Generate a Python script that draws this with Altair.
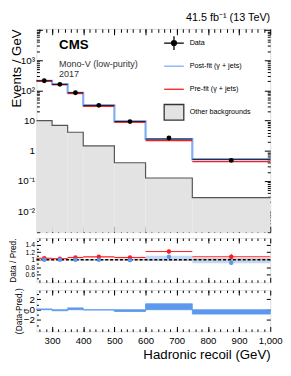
import altair as alt
import pandas as pd

FONT = "Liberation Sans"

# ---------------- data ----------------
edges = [250, 300, 350, 400, 500, 600, 750, 1000]
data_vals = [210, 160, 84, 32, 9.3, 2.65, 0.48]
postfit_vals = [210, 160, 84, 32, 9.4, 2.45, 0.52]
prefit_vals = [202, 155, 79, 29.6, 8.8, 2.17, 0.44]
other_bkg = [10.0, 6.9, 4.1, 1.45, 0.40, 0.125, 0.028]

ratio_pre = [1.04, 1.03, 1.06, 1.08, 1.06, 1.22, 1.08]
ratio_pre_err = [0.015, 0.015, 0.02, 0.02, 0.025, 0.05, 0.07]
ratio_post = [1.0, 1.0, 1.0, 1.0, 0.99, 1.08, 0.92]
ratio_post_err = [0.015, 0.015, 0.02, 0.02, 0.025, 0.05, 0.06]
pre_band_lo = [1.025, 1.02, 1.035, 1.05, 1.035, 1.22, 1.08]
pre_band_hi = [1.055, 1.045, 1.08, 1.09, 1.08, 1.22, 1.08]
post_band_lo = [0.985, 0.985, 0.985, 0.985, 0.985, 0.99, 0.91]
post_band_hi = [1.015, 1.015, 1.015, 1.015, 1.015, 1.11, 0.985]
unc_lo = [0.985, 0.985, 0.985, 0.98, 0.98, 0.965, 0.96]
unc_hi = [1.015, 1.015, 1.015, 1.02, 1.02, 1.035, 1.04]
resid = [0.15, -0.2, 0.35, -0.06, -0.35, 1.15, -0.85]

legend_names = ["Data", "Post-fit (γ + jets)", "Pre-fit (γ + jets)", "Other backgrounds"]

x_major = [300, 400, 500, 600, 700, 800, 900, 1000]
x_minor = list(range(260, 1000, 20))
y_main_major = [0.01, 0.1, 1, 10, 100, 1000, 10000]
y_main_minor = [k * 10.0 ** e for e in range(-3, 4) for k in range(2, 10)]
y_ratio_major = [0.6, 0.8, 1.0, 1.2, 1.4]
y_ratio_minor = [0.5, 0.7, 0.9, 1.1, 1.3, 1.5]
y_res_major = [-2, 0, 2]
y_res_minor = [-3, -1, 1, 3]

# ---------------- tables ----------------
bins = pd.DataFrame({
    "lo": edges[:-1], "hi": edges[1:],
    "data": data_vals, "post": postfit_vals, "pre": prefit_vals, "bkg": other_bkg,
    "rpre": ratio_pre, "rpre_e": ratio_pre_err, "rpost": ratio_post, "rpost_e": ratio_post_err,
    "pblo": pre_band_lo, "pbhi": pre_band_hi, "qblo": post_band_lo, "qbhi": post_band_hi,
    "ulo": unc_lo, "uhi": unc_hi, "res": resid,
})
bins["c"] = (bins["lo"] + bins["hi"]) / 2
bins["rpre_lo"] = bins["rpre"] - bins["rpre_e"]
bins["rpre_hi"] = bins["rpre"] + bins["rpre_e"]
bins["rpost_lo"] = bins["rpost"] - bins["rpost_e"]
bins["rpost_hi"] = bins["rpost"] + bins["rpost_e"]
bins["zero"] = 0.0

steps = pd.DataFrame({
    "x": edges,
    "bkg": other_bkg + [other_bkg[-1]],
    "post": postfit_vals + [postfit_vals[-1]],
})

W = 238
MAIN_H = 207
RATIO_H = 45
RES_H = 42

xs = alt.Scale(domain=[250, 1000], nice=False, zero=False)
ys_main = alt.Scale(type="log", domain=[0.002, 11000], nice=False)
ys_ratio = alt.Scale(domain=[0.4, 1.58], nice=False, zero=False)
ys_res = alt.Scale(domain=[-4.2, 3.8], nice=False, zero=False)

BLUE_LINE = "#7eaef4"
BLUE = "#5b98ee"
RED = "#ff1a1a"


def ax(orient, values, size, labels=False, **kw):
    return alt.Axis(orient=orient, values=values, tickSize=size, offset=-size,
                    domain=False, labels=labels, grid=False, tickColor="black",
                    tickWidth=1, labelFlush=False, labelOverlap=False,
                    labelBound=False, **kw)


def axis_layers(ys, ydummy, xaxes, yaxes):
    dummy = pd.DataFrame({"v": [500], "w": [ydummy]})
    out = []
    for a in xaxes:
        out.append(alt.Chart(dummy).mark_point(opacity=0).encode(
            x=alt.X("v:Q", scale=xs, axis=a), y=alt.Y("w:Q", scale=ys, axis=None)))
    for a in yaxes:
        out.append(alt.Chart(dummy).mark_point(opacity=0).encode(
            x=alt.X("v:Q", scale=xs, axis=None), y=alt.Y("w:Q", scale=ys, axis=a)))
    return out


def X(f):
    return alt.X(f, scale=xs, axis=None)


# ---------------- main panel ----------------
base = alt.Chart(bins)
bkg_fill = base.mark_rect(color="#e3e3e3").encode(
    x=X("lo:Q"), x2="hi:Q", y=alt.Y("bkg:Q", scale=ys_main, axis=None), y2=alt.value(MAIN_H))
bkg_line = alt.Chart(steps).mark_line(interpolate="step-after", color="#555555", strokeWidth=1.2).encode(
    x=X("x:Q"), y=alt.Y("bkg:Q", scale=ys_main, axis=None))
post_line = alt.Chart(steps).mark_line(interpolate="step-after", color=BLUE_LINE, strokeWidth=2.2).encode(
    x=X("x:Q"), y=alt.Y("post:Q", scale=ys_main, axis=None))
pre_rule = base.mark_rule(color=RED, strokeWidth=1.3).encode(
    x=X("lo:Q"), x2="hi:Q", y=alt.Y("pre:Q", scale=ys_main, axis=None))
post_rule = base.mark_rule(color="#111122", strokeWidth=1).encode(
    x=X("lo:Q"), x2="hi:Q", y=alt.Y("post:Q", scale=ys_main, axis=None))
data_pts = base.mark_circle(size=24, color="black", opacity=1).encode(
    x=X("c:Q"), y=alt.Y("data:Q", scale=ys_main, axis=None))

txt = pd.DataFrame({"t": ["x"]})
cms = alt.Chart(txt).mark_text(text="CMS", font=FONT, fontSize=13.5, fontWeight="bold",
                               align="left", baseline="middle", color="black").encode(
    x=alt.value(23), y=alt.value(17))
monov = alt.Chart(txt).mark_text(text="Mono-V (low-purity)", font=FONT, fontSize=9.2,
                                 align="left", baseline="middle", color="#333333").encode(
    x=alt.value(23), y=alt.value(35.5))
year = alt.Chart(txt).mark_text(text="2017", font=FONT, fontSize=9.2,
                                align="left", baseline="middle", color="#333333").encode(
    x=alt.value(23), y=alt.value(45.5))
lumi = alt.Chart(txt).mark_text(text="41.5 fb⁻¹ (13 TeV)", font=FONT, fontSize=11,
                                align="right", baseline="middle", color="black").encode(
    x=alt.value(W), y=alt.value(-11))

leg = alt.Legend(title=None, orient="none", legendX=129, legendY=3.5, symbolSize=400,
                 symbolStrokeWidth=1.3, labelFontSize=7.3, labelFont=FONT, labelOffset=5,
                 rowPadding=1.5, padding=0, labelColor="black", symbolOpacity=1)
# every symbol spans the same box (moves only widen the bounds) so rows are evenly spaced
shape_paths = [
    "M-1,-0.8M-1,0.8M-1,0H1M0,-0.7V0.7M0.25,0A0.25,0.25 0 1 1 -0.25,0A0.25,0.25 0 1 1 0.25,0Z",
    "M-1,-0.8M-1,0.8M-1,0H1",
    "M-1,-0.8M-1,0.8M-1,0H1",
    "M-1,-0.8H1V0.8H-1Z",
]
legend_layer = alt.Chart(pd.DataFrame({"name": legend_names})).transform_filter(
    "datum.name == 'none'").mark_point(filled=True, opacity=1, strokeWidth=1.3).encode(
    shape=alt.Shape("name:N", scale=alt.Scale(domain=legend_names, range=shape_paths), legend=leg),
    fill=alt.Fill("name:N", scale=alt.Scale(domain=legend_names,
                                            range=["black", BLUE_LINE, RED, "#e3e3e3"]), legend=leg),
    stroke=alt.Stroke("name:N", scale=alt.Scale(domain=legend_names,
                                                range=["black", BLUE_LINE, RED, "#333333"]), legend=leg),
)

main_label_expr = ("datum.value == 1000 ? '10³' : datum.value == 100 ? '10²' : datum.value == 10 ? '10' : "
                   "datum.value == 1 ? '1' : datum.value == 0.1 ? '10⁻¹' : datum.value == 0.01 ? '10⁻²' : ''")

main_axes = axis_layers(
    ys_main, 1,
    [ax("bottom", x_major, 6, title=None), ax("bottom", x_minor, 3.5, title=None),
     ax("top", x_major, 6, title=None), ax("top", x_minor, 3.5, title=None)],
    [ax("left", y_main_major, 6, labels=True, labelExpr=main_label_expr, labelFontSize=10,
        labelPadding=2, title="Events / GeV", titleFontSize=13.5, titleFontWeight="normal",
        titleAnchor="end", titleX=-19.5),
     ax("left", y_main_minor, 3, title=None),
     ax("right", y_main_major, 6, title=None), ax("right", y_main_minor, 3, title=None)],
)

main = alt.layer(bkg_fill, bkg_line, post_line, pre_rule, post_rule, data_pts,
                 cms, monov, year, lumi, legend_layer, *main_axes).resolve_axis(
    x="independent", y="independent").properties(width=W, height=MAIN_H)

# ---------------- ratio panel ----------------
def YR(f):
    return alt.Y(f, scale=ys_ratio, axis=None)

unc_band = base.mark_rect(color="#c4c4c4").encode(x=X("lo:Q"), x2="hi:Q", y=YR("ulo:Q"), y2="uhi:Q")
post_band = base.mark_rect(color="#bcd5f6", opacity=0.9).encode(x=X("lo:Q"), x2="hi:Q", y=YR("qblo:Q"), y2="qbhi:Q")
pre_band = base.mark_rect(color="#f8b8b8", opacity=0.9).encode(x=X("lo:Q"), x2="hi:Q", y=YR("pblo:Q"), y2="pbhi:Q")
one_line = alt.Chart(txt).mark_rule(color="black", strokeDash=[3, 2], strokeWidth=1.4).encode(
    y=alt.datum(1.0, scale=ys_ratio, axis=None))
pre_x = base.mark_rule(color=RED, strokeWidth=1).encode(x=X("lo:Q"), x2="hi:Q", y=YR("rpre:Q"))
pre_y = base.mark_rule(color=RED, strokeWidth=1).encode(x=X("c:Q"), y=YR("rpre_lo:Q"), y2="rpre_hi:Q")
pre_pt = base.mark_circle(size=20, color=RED, opacity=1).encode(x=X("c:Q"), y=YR("rpre:Q"))
post_y = base.mark_rule(color="#8fb8f2", strokeWidth=1.2).encode(x=X("c:Q"), y=YR("rpost_lo:Q"), y2="rpost_hi:Q")
post_pt = base.mark_circle(size=20, color=BLUE, opacity=1).encode(x=X("c:Q"), y=YR("rpost:Q"))

ratio_axes = axis_layers(
    ys_ratio, 1,
    [ax("bottom", x_major, 5, title=None), ax("bottom", x_minor, 2.5, title=None),
     ax("top", x_major, 5, title=None), ax("top", x_minor, 2.5, title=None)],
    [ax("left", y_ratio_major, 4, labels=True, labelFontSize=7, labelPadding=2,
        labelExpr="datum.value == 1 ? '1' : format(datum.value, '.1f')",
        title="Data / Pred.", titleFontSize=8.5, titleFontWeight="normal", titleX=-23.5),
     ax("left", y_ratio_minor, 2, title=None),
     ax("right", y_ratio_major, 4, title=None)],
)

ratio = alt.layer(unc_band, post_band, pre_band, one_line, pre_x, pre_y, pre_pt, post_y, post_pt,
                  *ratio_axes).resolve_axis(x="independent", y="independent").properties(
    width=W, height=RATIO_H)

# ---------------- residual panel ----------------
res_bar = base.mark_rect(color=BLUE, stroke=BLUE, strokeWidth=0.8).encode(
    x=X("lo:Q"), x2="hi:Q", y=alt.Y("zero:Q", scale=ys_res, axis=None), y2="res:Q")

res_axes = axis_layers(
    ys_res, 0,
    [ax("bottom", x_major, 5, labels=True, labelFontSize=9.7, labelPadding=4,
        title="Hadronic recoil (GeV)", titleFontSize=13.5, titleFontWeight="normal",
        titleAnchor="end", titlePadding=3),
     ax("bottom", x_minor, 2.5, title=None),
     ax("top", x_major, 5, title=None), ax("top", x_minor, 2.5, title=None)],
    [ax("left", y_res_major, 4, labels=True, labelFontSize=10, labelPadding=2,
        title=["(Data-Pred.)", "σ"], titleFontSize=8.5, titleFontWeight="normal",
        titleLineHeight=7, titleX=-17),
     ax("left", y_res_minor, 2, title=None),
     ax("right", y_res_major, 4, title=None)],
)

res = alt.layer(res_bar, *res_axes).resolve_axis(x="independent", y="independent").properties(
    width=W, height=RES_H)

chart = alt.vconcat(main, ratio, res, spacing=4).properties(padding=0).configure_view(
    stroke="black", strokeWidth=1.2).configure(font=FONT).configure_axis(
    labelFont=FONT, titleFont=FONT, labelColor="black", titleColor="black")

chart.save("out.html", embed_options={"renderer": "svg", "actions": False})
